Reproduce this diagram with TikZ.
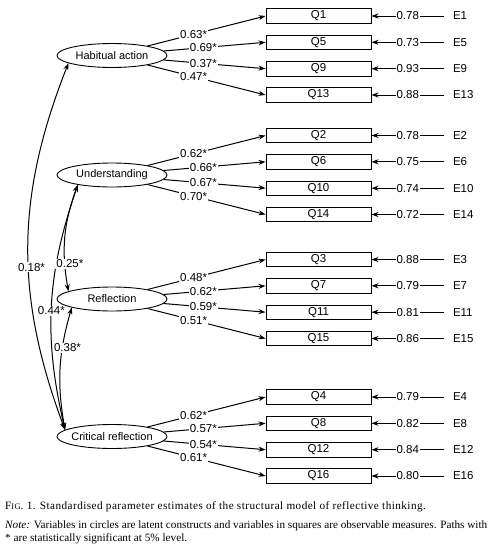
\documentclass[tikz,border=0pt]{standalone}
\usepackage{fontspec}
\setmainfont{Liberation Serif}
\newfontfamily\figsans{Liberation Sans}
\newfontfamily\capserif[LetterSpace=4]{Liberation Serif}
\usetikzlibrary{shapes.geometric,arrows.meta}

\newcommand{\semrow}[6]{%
  \node[obs] (q#3) at (318.5,#2) {Q#3};
  \node[errn] (e#3) at (444,#2) {E#3};
  \draw[pathline] (#1.#6) -- node[lbl,pos=0.39]{#4*} (q#3.west);
  \draw[pathline] (e#3.west) -- node[lbl]{#5} (q#3.east);
}

\begin{document}
\begin{tikzpicture}[x=1pt,y=-1pt,
  every node/.style={font=\figsans\fontsize{11.5}{13}\selectfont},
  latent/.style={draw, line width=0.9pt, ellipse, minimum width=110pt, minimum height=24pt, inner sep=0pt, font=\figsans\fontsize{11}{13}\selectfont},
  obs/.style={draw, line width=0.9pt, rectangle, minimum width=105pt, minimum height=14.5pt, inner sep=0pt},
  errn/.style={anchor=west, inner xsep=9pt, inner ysep=1pt, outer sep=0pt},
  pathline/.style={line width=1pt, -{Stealth[length=7pt,width=5pt]}},
  cov/.style={line width=1pt, {Stealth[length=7pt,width=5pt]}-{Stealth[length=7pt,width=5pt]}},
  lbl/.style={fill=white, inner sep=1pt},
  capline/.style={anchor=west, inner sep=0pt, font=\rmfamily\fontsize{11.2}{13}\selectfont},
]
\useasboundingbox (0,0) rectangle (499,555);

\node[latent] (ha) at (112,55.5) {\makebox[0pt]{Habitual action}};
\node[latent] (un) at (112,175) {\makebox[0pt]{Understanding}};
\node[latent] (re) at (112,299) {\makebox[0pt]{Reflection}};
\node[latent] (cr) at (112,436.5) {\makebox[0pt]{Critical reflection}};

\semrow{ha}{16}{1}{0.63}{0.78}{15}
\semrow{ha}{42.3}{5}{0.69}{0.73}{5}
\semrow{ha}{68.7}{9}{0.37}{0.93}{355}
\semrow{ha}{95}{13}{0.47}{0.88}{345}

\semrow{un}{135.5}{2}{0.62}{0.78}{15}
\semrow{un}{161.8}{6}{0.66}{0.75}{5}
\semrow{un}{188.2}{10}{0.67}{0.74}{355}
\semrow{un}{214.5}{14}{0.70}{0.72}{345}

\semrow{re}{259.5}{3}{0.48}{0.88}{15}
\semrow{re}{285.8}{7}{0.62}{0.79}{5}
\semrow{re}{312.2}{11}{0.59}{0.81}{355}
\semrow{re}{338.5}{15}{0.51}{0.86}{345}

\semrow{cr}{397}{4}{0.62}{0.79}{15}
\semrow{cr}{423.3}{8}{0.57}{0.82}{5}
\semrow{cr}{449.7}{12}{0.54}{0.84}{355}
\semrow{cr}{476}{16}{0.61}{0.80}{345}

\draw[cov] (ha.190) to[bend right=21] node[lbl,pos=0.56,xshift=3pt]{0.18*} (cr.172);
\draw[cov] (un.196) to[bend right=16] node[lbl,pos=0.52]{0.44*} (cr.172);
\draw[cov] (un.196) to[bend right=15] node[lbl,pos=0.76,xshift=5pt]{0.25*} (re.170);
\draw[cov] (re.192) to[bend right=13] node[lbl,pos=0.32,xshift=5pt]{0.38*} (cr.172);

\node[capline,font=\capserif\fontsize{11.2}{13}\selectfont] (cap) at (5,507) {F{\fontsize{8.5}{10}\selectfont IG}. 1. Standardised parameter estimates of the structural model of reflective thinking.};
\node[capline] (note1) at (5,526) {\textit{Note:} Variables in circles are latent constructs and variables in squares are observable measures. Paths with};
\node[capline] (note2) at (5,539) {* are statistically significant at 5\% level.};
\end{tikzpicture}
\end{document}
